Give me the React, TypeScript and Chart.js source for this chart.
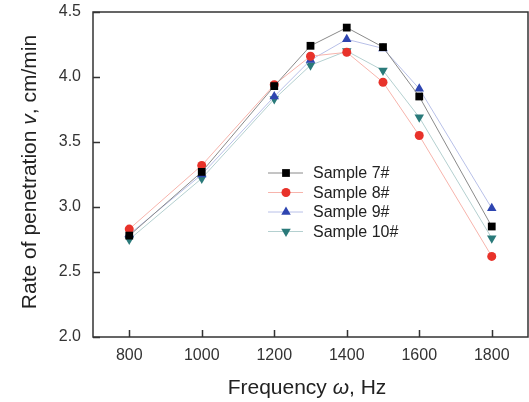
import React, { useEffect, useRef } from "react";
import { Chart, registerables } from "chart.js";
import { drawPoint } from "chart.js/helpers";

Chart.register(...registerables);

const frequencies = [800, 1000, 1200, 1300, 1400, 1500, 1600, 1800];
const sample7 = [2.78, 3.27, 3.93, 4.24, 4.38, 4.23, 3.85, 2.85];
const sample8 = [2.83, 3.32, 3.94, 4.16, 4.19, 3.96, 3.55, 2.62];
const sample9 = [2.79, 3.25, 3.85, 4.13, 4.29, 4.22, 3.91, 2.99];
const sample10 = [2.75, 3.22, 3.83, 4.09, 4.20, 4.05, 3.69, 2.76];
const xTicks = [800, 1000, 1200, 1400, 1600, 1800];
const yTicks = [2.0, 2.5, 3.0, 3.5, 4.0, 4.5];
const seriesNames = ["Sample 7#", "Sample 8#", "Sample 9#", "Sample 10#"];

const styles = [
  { line: "#8a8a8a", mark: "#000000", shape: "rect", rot: 0, r: 5.5 },
  { line: "#f7b4ac", mark: "#e8322a", shape: "circle", rot: 0, r: 4.5 },
  { line: "#b8c0e8", mark: "#2e45b0", shape: "triangle", rot: 0, r: 5.5 },
  { line: "#b4d0d0", mark: "#2a7a7a", shape: "triangle", rot: 180, r: 5.5 },
];

const FONT = "'Liberation Sans', Arial, sans-serif";

const decorPlugin = {
  id: "decor",
  afterDraw(chart: any) {
    const { ctx, chartArea, scales } = chart;
    const { left, right, top, bottom } = chartArea;
    ctx.save();
    ctx.strokeStyle = "#333";
    ctx.lineWidth = 1.5;
    ctx.strokeRect(left, top, right - left, bottom - top);
    ctx.beginPath();
    for (const v of xTicks) {
      const x = Math.round(scales.x.getPixelForValue(v)) + 0.5;
      ctx.moveTo(x, bottom);
      ctx.lineTo(x, bottom - 7);
    }
    for (const v of yTicks) {
      const y = Math.round(scales.y.getPixelForValue(v)) + 0.5;
      ctx.moveTo(left, y);
      ctx.lineTo(left + 7, y);
    }
    ctx.stroke();

    const lx = 268;
    const ly = 173;
    const gap = 19.5;
    chart.data.datasets.forEach((ds: any, i: number) => {
      const st = styles[i];
      const y = ly + i * gap;
      ctx.strokeStyle = st.line;
      ctx.lineWidth = 1;
      ctx.beginPath();
      ctx.moveTo(lx, y);
      ctx.lineTo(lx + 35, y);
      ctx.stroke();
      ctx.fillStyle = st.mark;
      ctx.strokeStyle = st.mark;
      drawPoint(ctx, { pointStyle: st.shape, rotation: st.rot, radius: st.r, borderWidth: 0 }, lx + 18, y);
      ctx.fillStyle = "#222";
      ctx.font = `16px ${FONT}`;
      ctx.textAlign = "left";
      ctx.textBaseline = "middle";
      ctx.fillText(ds.label, lx + 45, y + 1);
    });

    ctx.fillStyle = "#222";
    ctx.textBaseline = "middle";
    const drawMixed = (parts: [string, boolean][], cx: number, cy: number) => {
      let total = 0;
      const widths = parts.map(([t, it]) => {
        ctx.font = `${it ? "italic " : ""}21px ${FONT}`;
        const w = ctx.measureText(t).width;
        total += w;
        return w;
      });
      let x = cx - total / 2;
      ctx.textAlign = "left";
      parts.forEach(([t, it], k) => {
        ctx.font = `${it ? "italic " : ""}21px ${FONT}`;
        ctx.fillText(t, x, cy);
        x += widths[k];
      });
    };
    drawMixed([["Frequency ", false], ["ω", true], [", Hz", false]], 307, 388);
    ctx.save();
    ctx.translate(30, 172);
    ctx.rotate(-Math.PI / 2);
    drawMixed([["Rate of penetration ", false], ["v", true], [", cm/min", false]], 0, 0);
    ctx.restore();
    ctx.restore();
  },
};

export default function App() {
  const ref = useRef<HTMLCanvasElement | null>(null);
  useEffect(() => {
    if (!ref.current) return;
    const all = [sample7, sample8, sample9, sample10];
    const chart = new Chart(ref.current, {
      type: "line",
      data: {
        datasets: all.map((arr, i) => ({
          label: seriesNames[i],
          data: frequencies.map((f, k) => ({ x: f, y: arr[k] })),
          borderColor: styles[i].line,
          borderWidth: 1,
          pointStyle: styles[i].shape as any,
          rotation: styles[i].rot,
          pointRadius: styles[i].r,
          pointBackgroundColor: styles[i].mark,
          pointBorderColor: styles[i].mark,
          pointBorderWidth: 0,
          tension: 0,
          fill: false,
        })),
      },
      options: {
        responsive: false,
        animation: false,
        layout: { autoPadding: false, padding: { top: 12, right: 1, left: 0, bottom: 0 } },
        plugins: { legend: { display: false }, tooltip: { enabled: false } },
        scales: {
          x: {
            type: "linear",
            min: 700,
            max: 1900,
            afterBuildTicks: (s: any) => {
              s.ticks = xTicks.map((v) => ({ value: v }));
            },
            afterFit: (s: any) => {
              s.height = 65;
              s.paddingLeft = 0;
              s.paddingRight = 0;
              s.paddingTop = 0;
              s.paddingBottom = 0;
            },
            grid: { display: false, drawTicks: false },
            border: { display: false },
            ticks: {
              padding: 9,
              color: "#333",
              font: { family: FONT, size: 16 },
              maxRotation: 0,
              callback: (v: any) => String(v),
            },
          },
          y: {
            type: "linear",
            min: 2.0,
            max: 4.5,
            afterBuildTicks: (s: any) => {
              s.ticks = yTicks.map((v) => ({ value: v }));
            },
            afterFit: (s: any) => {
              s.width = 93;
              s.paddingLeft = 0;
              s.paddingRight = 0;
              s.paddingTop = 0;
              s.paddingBottom = 0;
            },
            grid: { display: false, drawTicks: false },
            border: { display: false },
            ticks: {
              padding: 12,
              color: "#333",
              font: { family: FONT, size: 16 },
              callback: (v: any) => Number(v).toFixed(1),
            },
          },
        },
      },
      plugins: [decorPlugin],
    });
    return () => chart.destroy();
  }, []);
  return (
    <div style={{ position: "fixed", left: 0, top: 0, width: 529, height: 402, background: "#fff" }}>
      <canvas ref={ref} width={529} height={402} style={{ width: 529, height: 402 }} />
    </div>
  );
}
